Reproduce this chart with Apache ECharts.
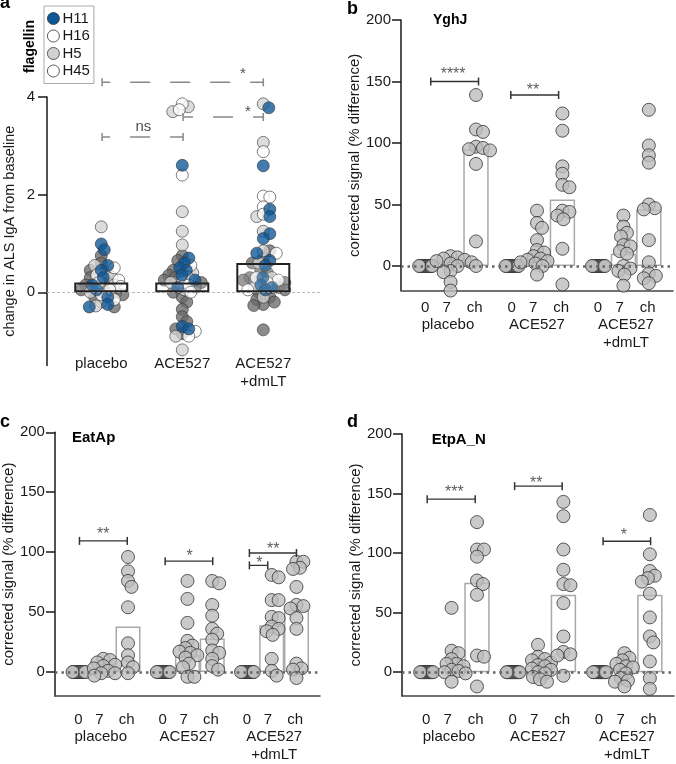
<!DOCTYPE html>
<html>
<head>
<meta charset="UTF-8">
<title>flagellin / antigen responses</title>
<script src="https://cdn.jsdelivr.net/npm/echarts@6/dist/echarts.min.js"></script>
<style>
    html, body { margin: 0; padding: 0; background: #fff; }
    #chart { width: 676px; height: 764px; }
</style>
</head>
<body>
<div id="chart"></div>
<script>
// ---- panel a: change in ALS IgA per flagellin (placebo / ACE527 / ACE527+dmLT) ----
var groupNames = ['placebo', 'ACE527', 'ACE527\n+dmLT'];
var flagellins = ['H11', 'H16', 'H5', 'H45'];
var h11Values = [
    [0.99, 0.87, 0.55, 0.45, 0.3, 0.15, 0.05, -0.1, -0.25, -0.3],
    [2.6, 0.7, 0.6, 0.5, 0.45, 0.35, 0.25, 0.1, -0.7, -0.75],
    [3.78, 2.59, 1.7, 1.55, 1.2, 1.1, 0.8, 0.65, 0.55, 0.3, 0.15, 0.1, 0.05]
];
var h16Values = [
    [0.5, 0.35, 0.25, 0.2, 0.12, 0.05, -0.05, -0.15],
    [3.86, 3.74, 2.4, 0.55, 0.3, 0.2, 0.15, 0.0, -0.8, -0.9],
    [2.88, 1.97, 1.95, 1.75, 1.6, 0.8, 0.3, 0.25, 0.2, 0.05]
];
var h5Values = [
    [1.34, 0.55, 0.4, 0.3, 0.15, 0.0, -0.2, -0.28],
    [3.8, 3.7, 1.65, 1.25, 0.97, 0.4, 0.2, 0.05, -0.9, -1.18],
    [3.86, 3.07, 1.55, 1.25, 0.85, 0.6, 0.3, 0.1, -0.1]
];
var h45Values = [
    [0.75, 0.6, 0.45, 0.3, 0.2, 0.15, 0.1, 0.05, 0.0, -0.05, -0.1, -0.3],
    [0.75, 0.65, 0.45, 0.35, 0.3, 0.25, 0.2, 0.1, 0.0, -0.1, -0.2, -0.35, -0.5, -0.6, -0.75, -0.85],
    [0.85, 0.7, 0.6, 0.45, 0.4, 0.3, 0.25, 0.2, 0.1, 0.05, 0.0, -0.1, -0.15, -0.2, -0.25, -0.27, -0.77]
];
var flagellinBars = [0.2, 0.2, 0.6];
// [x1, x2, y] brackets and [x, y, text] marks, in axis units
var flagellinBrackets = [[1.01, 3.0, 4.3, 12], [2.01, 3.0, 3.59, 10], [1.01, 2.01, 3.18, 12]];
var flagellinStars = [[2.75, 4.47, '*'], [2.81, 3.69, '*'], [1.52, 3.39, 'ns']];

// ---- panels b-d: day 0, day 7, challenge for each group ----
var dayLabels = ['0', '7', 'ch'];
var yghjPoints = [
    [0, 0, 0, 0, 0, 0, 0, 0, 0, 0, 0, 0, 0, 0],
    [8, 7, 6, 5, 4, 3, 2, 0, -4, -5, -13, -20],
    [139, 111, 109, 97, 96, 95, 94, 83, 20, 0],
    [0, 0, 0, 0, 0, 0, 0, 0, 0, 0, 0, 0, 0, 0],
    [45, 35, 31, 21, 13, 11, 8, 6, 5, 4, 3, 2, 0, -7],
    [124, 110, 81, 75, 66, 64, 45, 44, 41, 38, 14, -15],
    [0, 0, 0, 0, 0, 0, 0, 0, 0, 0, 0, 0, 0, 0],
    [41, 32, 27, 24, 17, 16, 12, 10, 0, -2, -4, -7, -16],
    [127, 98, 90, 84, 50, 47, 46, 21, 3, -6, -8, -10, -14]
];
var yghjBars = [0, 0, 95, 0, 0, 54, 0, 10, 46];
var yghjBrackets = [[0.22, 2.1, 150], [3.37, 5.25, 139]];
var yghjStars = [[1.1, 155.5, '****'], [4.24, 143, '**']];

var eatApPoints = [
    [0, 0, 0, 0, 0, 0, 0, 0, 0, 0, 0, 0, 0, 0],
    [11, 10, 8, 6, 5, 3, 1, -1, -1, -3],
    [96, 84, 76, 71, 54, 24, 14, 8, 4, -1],
    [0, 0, 0, 0, 0, 0, 0, 0, 0, 0, 0, 0, 0, 0],
    [76, 61, 41, 26, 22, 20, 17, 16, 14, 12, 7, 4, -4, -4],
    [76, 74, 56, 47, 36, 32, 27, 18, 16, 11, 5, 2],
    [0, 0, 0, 0, 0, 0, 0, 0, 0, 0, 0, 0, 0, 0],
    [81, 79, 60, 60, 46, 45, 38, 36, 34, 31, 11, 1, -3],
    [92, 92, 87, 86, 71, 56, 55, 53, 45, 36, 7, 3, 2, -5]
];
var eatApBars = [0, 0, 38, 0, 14, 28, 0, 39, 52];
var eatApBrackets = [[0.04, 1.97, 109.4], [3.5, 5.42, 92.5], [6.9, 8.8, 99.3], [6.9, 7.64, 89]];
var eatApStars = [[1.0, 114.5, '**'], [4.49, 96, '*'], [7.86, 101.8, '**'], [7.3, 90.6, '*']];

var etpANPoints = [
    [0, 0, 0, 0, 0, 0, 0, 0, 0, 0, 0, 0, 0, 0],
    [54, 18, 16, 11, 7, 7, 5, 2, 1, 0, -1, -8],
    [126, 103, 103, 97, 77, 74, 65, 14, 13, -12],
    [0, 0, 0, 0, 0, 0, 0, 0, 0, 0, 0, 0, 0, 0],
    [23, 13, 11, 10, 8, 6, 5, 3, 2, 0, -1, -4, -6, -8],
    [143, 131, 103, 86, 74, 73, 58, 30, 17, 15, 14, -3],
    [0, 0, 0, 0, 0, 0, 0, 0, 0, 0, 0, 0, 0, 0],
    [16, 12, 10, 7, 5, 4, 2, -1, -5, -7, -8, -12],
    [132, 99, 85, 81, 79, 76, 66, 46, 30, 25, 9, -5, -14]
];
var etpANBars = [0, 0, 75, 0, 0, 65, 0, 0, 65];
var etpANBrackets = [[0.04, 1.93, 145.3], [3.48, 5.35, 156.2], [6.96, 8.83, 110]];
var etpANStars = [[1.11, 151, '***'], [4.33, 158.6, '**'], [7.78, 115, '*']];

var font = '"Liberation Sans", Arial, Helvetica, sans-serif';
var ink = '#1a1a1a';
var colBase = [0, 3.4, 6.8];          // x of the day-0 column of each group
var tickOffsets = [0, 0.85, 1.95];    // where "0 7 ch" sit inside a group
var groupCenters = [0.9, 4.4, 7.9];

function colX(i) { return colBase[Math.floor(i / 3)] + i % 3; }

// simple beeswarm: x offsets (axis units) so points of one column don't pile up
function swarm(vals, yPx, xPx, sep) {
    var order = vals.map(function (v, i) { return i; })
        .sort(function (a, b) { return vals[b] - vals[a]; });
    var placed = [], off = [];
    order.forEach(function (i) {
        var y = vals[i] * yPx;
        for (var k = 0; k < 400; k++) {
            var dx = (k % 2 ? 1 : -1) * Math.ceil(k / 2) * 0.5;
            var hit = placed.some(function (p) {
                return (p[0] - dx) * (p[0] - dx) + (p[1] - y) * (p[1] - y) < sep * sep;
            });
            if (!hit) { placed.push([dx, y]); off[i] = dx / xPx; break; }
        }
    });
    return off;
}

function nearest(list, v) {
    var best = 0;
    list.forEach(function (x, i) { if (Math.abs(x - v) < Math.abs(list[best] - v)) best = i; });
    return best;
}

function bracketSeries(b, xi, yi, color, dashed) {
    return {
        type: 'line', xAxisIndex: xi, yAxisIndex: yi, silent: true, clip: false, z: 6,
        data: [[b[0], b[2]], [b[1], b[2]]],
        symbol: 'rect', symbolSize: [1.5, 8], showSymbol: true,
        itemStyle: { color: color },
        lineStyle: dashed ? { color: color, width: 1.5, type: [20, 20], dashOffset: b[3] }
                          : { color: color, width: 1.4 }
    };
}

function starSeries(stars, xi, yi, size, color) {
    return {
        type: 'scatter', xAxisIndex: xi, yAxisIndex: yi, silent: true, clip: false, z: 7,
        symbolSize: 1, itemStyle: { color: 'rgba(0,0,0,0)' },
        data: stars.map(function (s) { return { value: [s[0], s[1]], name: s[2] }; }),
        label: { show: true, position: 'inside', formatter: '{b}', fontSize: size, color: color, fontFamily: font }
    };
}

var grids = [], xAxes = [], yAxes = [], series = [];

// ---------- panel a ----------
grids.push({ left: 47, top: 97, width: 273, height: 268.5 });
xAxes.push({
    gridIndex: 0, type: 'value', min: 0.33, max: 3.7,
    axisLine: { show: false, onZero: false }, axisTick: { show: false }, splitLine: { show: false },
    axisLabel: {
        customValues: [1, 2, 3], margin: -10, fontSize: 15, lineHeight: 17.5, color: ink, fontFamily: font,
        formatter: function (v) { return groupNames[Math.round(v) - 1]; }
    }
});
yAxes.push({
    gridIndex: 0, type: 'value', min: -1.5, max: 4,
    name: 'change in ALS IgA from baseline', nameLocation: 'middle', nameGap: 30,
    nameTextStyle: { fontSize: 14.5, color: ink, fontFamily: font },
    axisLine: { show: true, onZero: false, lineStyle: { color: ink, width: 1.5 } },
    axisTick: { show: true, length: 9, customValues: [0, 2, 4], lineStyle: { color: ink, width: 1.5 } },
    axisLabel: { customValues: [0, 2, 4], margin: 12, fontSize: 15, color: ink, fontFamily: font },
    splitLine: { show: false }
});

var flagValues = [h11Values, h16Values, h5Values, h45Values];
var flagColors = ['#0d5797', '#ffffff', '#d2d2d2', '#6a6a6a'];
var flagData = [[], [], [], []];
[0, 1, 2].forEach(function (g) {
    var pts = [];
    flagValues.forEach(function (arr, f) {
        arr[g].forEach(function (v) { pts.push([f, v]); });
    });
    var off = swarm(pts.map(function (p) { return p[1]; }), 48.8, 81, 6.5);
    pts.forEach(function (p, i) { flagData[p[0]].push([g + 1 + off[i], p[1]]); });
});
// dark ones first so the coloured points end up on top
[3, 2, 1, 0].forEach(function (f) {
    series.push({
        name: flagellins[f], type: 'scatter', xAxisIndex: 0, yAxisIndex: 0, clip: false, z: 3,
        symbolSize: 12, data: flagData[f],
        itemStyle: { color: flagColors[f], opacity: 0.78, borderColor: '#333', borderWidth: 0.8 }
    });
});
series.push({
    type: 'bar', xAxisIndex: 0, yAxisIndex: 0, barWidth: 54, silent: true, z: 5,
    data: flagellinBars.map(function (v, g) { return [g + 1, v]; }),
    itemStyle: { color: 'rgba(255,255,255,0.15)', borderColor: '#222', borderWidth: 2 },
    markLine: {
        silent: true, symbol: 'none', label: { show: false },
        lineStyle: { color: '#bbb', width: 1, type: [3, 2] }, data: [{ yAxis: 0 }]
    }
});
flagellinBrackets.forEach(function (b) { series.push(bracketSeries(b, 0, 0, '#888', true)); });
series.push(starSeries(flagellinStars, 0, 0, 15, ink));

// ---------- panels b, c, d ----------
var panels = [
    { points: yghjPoints, bars: yghjBars, brackets: yghjBrackets, stars: yghjStars,
      grid: { left: 401, top: 20, width: 272, height: 270.6 }, xPx: 25.4, yPx: 1.23, tickMargin: 10, groupMargin: 25 },
    { points: eatApPoints, bars: eatApBars, brackets: eatApBrackets, stars: eatApStars,
      grid: { left: 52, top: 432.3, width: 268, height: 269.5 }, xPx: 25.03, yPx: 1.225, tickMargin: 16, groupMargin: 32 },
    { points: etpANPoints, bars: etpANBars, brackets: etpANBrackets, stars: etpANStars,
      grid: { left: 402, top: 434, width: 272, height: 269.5 }, xPx: 25.4, yPx: 1.225, tickMargin: 16, groupMargin: 32 }
];
var tickPos = [];
colBase.forEach(function (b) { tickOffsets.forEach(function (o) { tickPos.push(b + o); }); });

panels.forEach(function (p, k) {
    var gi = k + 1, xi = 1 + k * 2, yi = gi;
    grids.push(p.grid);
    xAxes.push({
        gridIndex: gi, type: 'value', min: -0.95, max: 9.75, position: 'bottom',
        axisLine: { show: true, onZero: false, lineStyle: { color: '#444', width: 1.5 } },
        axisTick: { show: false }, splitLine: { show: false },
        axisLabel: {
            customValues: tickPos, margin: p.tickMargin, fontSize: 15, color: ink, fontFamily: font,
            formatter: function (v) { return dayLabels[nearest(tickPos, v) % 3]; }
        }
    });
    xAxes.push({
        gridIndex: gi, type: 'value', min: -0.95, max: 9.75, position: 'bottom',
        axisLine: { show: false, onZero: false }, axisTick: { show: false }, splitLine: { show: false },
        axisLabel: {
            customValues: groupCenters, margin: p.groupMargin, fontSize: 15, lineHeight: 18, color: ink, fontFamily: font,
            formatter: function (v) { return groupNames[nearest(groupCenters, v)]; }
        }
    });
    yAxes.push({
        gridIndex: gi, type: 'value', min: -20, max: 200,
        name: 'corrected signal (% difference)', nameLocation: 'middle', nameGap: 35,
        nameTextStyle: { fontSize: 15, color: ink, fontFamily: font },
        axisLine: { show: true, onZero: false, lineStyle: { color: ink, width: 1.5 } },
        axisTick: { show: true, length: 9, customValues: [0, 50, 100, 150, 200], lineStyle: { color: ink, width: 1.5 } },
        axisLabel: { customValues: [0, 50, 100, 150, 200], margin: 10, fontSize: 15, color: ink, fontFamily: font },
        splitLine: { show: false }
    });

    series.push({
        type: 'bar', xAxisIndex: xi, yAxisIndex: yi, barWidth: p.xPx, silent: true, z: 1,
        data: p.bars.map(function (v, i) { return [colX(i), v]; }).filter(function (d) { return d[1] > 0; }),
        itemStyle: { color: '#fff', borderColor: '#a9a9a9', borderWidth: 1.5 },
        markLine: {
            silent: true, symbol: 'none', label: { show: false },
            lineStyle: { color: '#666', width: 2.5, type: [2.5, 4] }, data: [{ yAxis: 0 }]
        }
    });

    var data = [];
    p.points.forEach(function (vals, i) {
        var off = swarm(vals, p.yPx, p.xPx, i % 3 === 0 ? 0.7 : 7);
        vals.forEach(function (v, j) { data.push([colX(i) + off[j], v]); });
    });
    series.push({
        type: 'scatter', xAxisIndex: xi, yAxisIndex: yi, clip: false, z: 3, silent: true,
        symbolSize: 13, data: data,
        itemStyle: { color: '#bdbdbd', opacity: 0.8, borderColor: '#333', borderWidth: 1 }
    });
    p.brackets.forEach(function (b) { series.push(bracketSeries(b, xi, yi, '#333', false)); });
    series.push(starSeries(p.stars, xi, yi, 16, '#333'));
});

function label(text, x, y, size, extra) {
    return Object.assign({
        type: 'text', x: x, y: y, silent: true,
        style: { text: text, font: 'bold ' + size + 'px ' + font, fill: '#000', verticalAlign: 'middle' }
    }, extra || {});
}

var option = {
    animation: false,
    backgroundColor: '#fff',
    grid: grids,
    xAxis: xAxes,
    yAxis: yAxes,
    legend: {
        data: [{ name: 'H11' }, { name: 'H16' }, { name: 'H5' }, { name: 'H45', itemStyle: { color: '#fff' } }],
        orient: 'vertical', left: 44, top: 6, padding: [5, 4, 5, 3], itemGap: 2.5,
        itemWidth: 12, itemHeight: 12, icon: 'circle', selectedMode: false,
        borderColor: '#aaa', borderWidth: 1,
        itemStyle: { opacity: 1, borderColor: '#333', borderWidth: 0.8 },
        textStyle: { fontSize: 15, lineHeight: 15, color: ink, fontFamily: font, padding: [0, 0, 0, -2] }
    },
    graphic: [
        label('a', 0, 3.2, 18),
        label('b', 347, 8.7, 18),
        label('c', 0, 421.7, 18),
        label('d', 347, 421.7, 18),
        label('YghJ', 433, 20, 14),
        label('EatAp', 72, 437.7, 15),
        label('EtpA_N', 431.7, 439.7, 15),
        label('flagellin', 30.6, 46.5, 14, { rotation: Math.PI / 2, style: {
            text: 'flagellin', font: 'bold 14px ' + font, fill: '#000', align: 'center', verticalAlign: 'middle' } })
    ],
    series: series
};

var myChart = echarts.init(document.getElementById('chart'));
myChart.setOption(option);
</script>
</body>
</html>
